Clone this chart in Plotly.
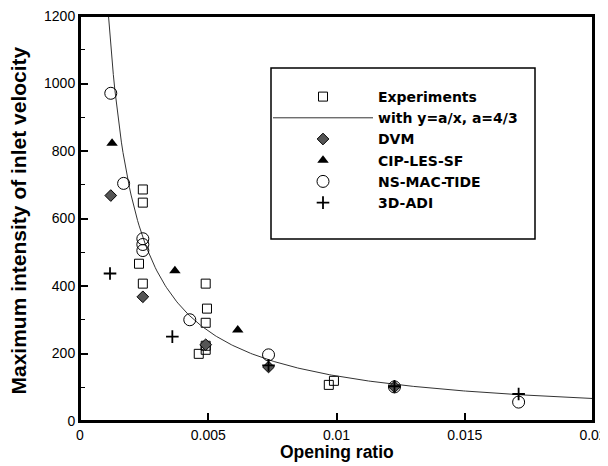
import plotly.graph_objects as go

# ---- data ----
exp_x = [0.00245, 0.00245, 0.0023, 0.00245, 0.0049, 0.00495, 0.0049, 0.0049, 0.0049, 0.00463, 0.0097, 0.0099]
exp_y = [686, 647, 466, 407, 407, 333, 291, 223, 211, 199, 107, 119]

dvm_x = [0.0012, 0.00245, 0.0049, 0.00735, 0.01226]
dvm_y = [668, 368, 226, 160, 101]

cip_x = [0.00125, 0.0037, 0.00615]
cip_y = [823, 445, 270]

ns_x = [0.0012, 0.0017, 0.00245, 0.00245, 0.00245, 0.00428, 0.00735, 0.01226, 0.0171]
ns_y = [971, 704, 540, 523, 505, 300, 196, 101, 56]

adi_x = [0.00117, 0.0036, 0.00735, 0.01226, 0.0171]
adi_y = [437, 250, 165, 103, 80]

A = 4.0 / 3.0  # y = a/x, a = 4/3
curve_x = [0.00111 + i * (0.02 - 0.00111) / 300 for i in range(301)]
curve_y = [A / x for x in curve_x]

x_ticks = [0, 0.005, 0.01, 0.015, 0.02]
x_tick_labels = ["0", "0.005", "0.01", "0.015", "0.02"]
y_ticks = [0, 200, 400, 600, 800, 1000, 1200]

FONT = "Liberation Sans, Arial, sans-serif"
WIDE = "DejaVu Sans, sans-serif"

fig = go.Figure()
fig.add_trace(go.Scatter(x=exp_x, y=exp_y, mode="markers", name="Experiments",
                         marker=dict(symbol="square-open", size=9, color="black", line=dict(width=1))))
fig.add_trace(go.Scatter(x=curve_x, y=curve_y, mode="lines", name="with y=a/x, a=4/3",
                         line=dict(color="#333", width=1)))
fig.add_trace(go.Scatter(x=dvm_x, y=dvm_y, mode="markers", name="DVM",
                         marker=dict(symbol="diamond", size=9, color="#555", line=dict(color="black", width=1))))
fig.add_trace(go.Scatter(x=cip_x, y=cip_y, mode="markers", name="CIP-LES-SF",
                         marker=dict(symbol="triangle-up", size=10, color="black")))
fig.add_trace(go.Scatter(x=ns_x, y=ns_y, mode="markers", name="NS-MAC-TIDE",
                         marker=dict(symbol="circle-open", size=12, color="black", line=dict(width=1))))
fig.add_trace(go.Scatter(x=adi_x, y=adi_y, mode="markers", name="3D-ADI",
                         marker=dict(symbol="cross-thin-open", size=9, color="black", line=dict(width=1.8))))

# plot frame
fig.add_shape(type="rect", xref="paper", yref="paper", x0=0, x1=1, y0=0, y1=1,
              line=dict(color="black", width=2), fillcolor="rgba(0,0,0,0)", layer="above")

# legend box
fig.add_shape(type="rect", xref="paper", yref="paper",
              x0=(271 - 80) / 513, x1=(535 - 80) / 513,
              y0=(421 - 239) / 405, y1=(421 - 68) / 405,
              line=dict(color="black", width=1.5), fillcolor="rgba(0,0,0,0)")

# axis titles
fig.add_annotation(text="<b>Opening ratio</b>", xref="paper", yref="paper",
                   x=(337 - 80) / 513, y=(421 - 452) / 405, showarrow=False,
                   xanchor="center", yanchor="middle", font=dict(family=FONT, size=17.5, color="black"))
fig.add_annotation(text="<b>Maximum intensity of inlet velocity</b>", xref="paper", yref="paper",
                   x=(18 - 80) / 513, y=(421 - 220.5) / 405, showarrow=False, textangle=-90,
                   xanchor="center", yanchor="middle", font=dict(family=FONT, size=21, color="black"))

# page body adds an 8px margin: figure is sized to fit the 608x466 window
fig.update_layout(
    width=600, height=458,
    margin=dict(l=72, r=15, t=8, b=45),
    paper_bgcolor="white", plot_bgcolor="white",
    font=dict(family=FONT, size=14, color="black"),
    showlegend=True,
    legend=dict(x=(268 - 80) / 513, y=(421 - 81) / 405, xanchor="left", yanchor="top",
                bgcolor="rgba(0,0,0,0)", borderwidth=0, itemwidth=100,
                font=dict(family=WIDE, size=14, color="black", weight="bold"),
                tracegroupgap=0),
    xaxis=dict(range=[0, 0.02], tickvals=x_ticks, ticktext=x_tick_labels, automargin=False,
               ticklabeloverflow="allow",
               showgrid=False, zeroline=False, showline=True, linecolor="black", linewidth=2,
               mirror=True, ticks="inside", ticklen=8, tickwidth=2, tickcolor="black"),
    yaxis=dict(range=[0, 1200], tickvals=y_ticks, automargin=False,
               ticklabeloverflow="allow",
               showgrid=False, zeroline=False, showline=True, linecolor="black", linewidth=2,
               mirror=True, ticks="inside", ticklen=8, tickwidth=2, tickcolor="black",
               minor=dict(dtick=100, ticks="inside", ticklen=5, tickwidth=1, tickcolor="black")),
)

fig.write_html("out.html")
